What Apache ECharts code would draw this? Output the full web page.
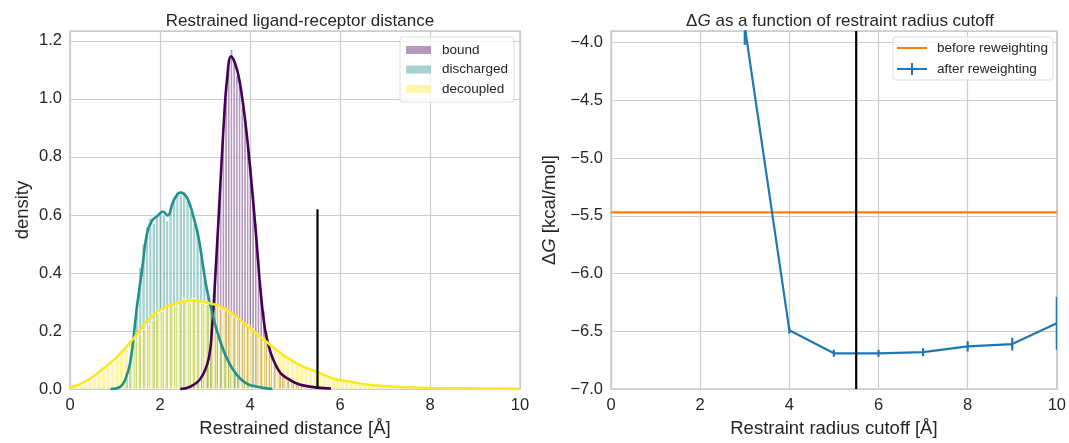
<!DOCTYPE html>
<html>
<head>
<meta charset="utf-8">
<script src="https://cdn.jsdelivr.net/npm/echarts@6/dist/echarts.min.js"></script>
<style>
  html, body { margin: 0; padding: 0; background: #fff; }
  #chart { width: 1069px; height: 443px; }
</style>
</head>
<body>
<div id="chart"></div>
<script>
// histogram bins: start, width, heights
const boundStart = 2.60, boundWidth = 0.06
const boundHist = [0.01, 0.012, 0.02, 0.025, 0.035, 0.05, 0.07, 0.10, 0.15, 0.23, 0.37, 0.53, 0.71, 0.87, 1.03, 1.11,
  1.17, 1.13, 1.08, 1.05, 0.97, 0.93, 0.84, 0.77, 0.67, 0.57, 0.45, 0.35, 0.27, 0.20, 0.15, 0.11, 0.085, 0.07,
  0.058, 0.048, 0.04, 0.034, 0.028, 0.022, 0.018, 0.015, 0.012, 0.009, 0.007, 0.005]

const dischStart = 1.0, dischWidth = 0.075
const dischHist = [0.005, 0.01, 0.03, 0.06, 0.10, 0.17, 0.30, 0.42, 0.50, 0.56, 0.59, 0.57, 0.60, 0.61, 0.60, 0.58,
  0.62, 0.66, 0.68, 0.67, 0.68, 0.65, 0.61, 0.57, 0.55, 0.45, 0.38, 0.32, 0.27, 0.23, 0.19, 0.15, 0.12, 0.09,
  0.07, 0.055, 0.04, 0.03, 0.025, 0.02, 0.015, 0.01, 0.008, 0.005, 0.003]

const decStart = 0.0, decWidth = 0.1
const decHist = [0.004, 0.006, 0.01, 0.016, 0.024, 0.036, 0.048, 0.062, 0.074, 0.09, 0.10, 0.122, 0.136, 0.152, 0.168,
  0.19, 0.205, 0.224, 0.238, 0.262, 0.268, 0.284, 0.29, 0.286, 0.302, 0.31, 0.298, 0.312, 0.302, 0.296, 0.292,
  0.286, 0.282, 0.276, 0.27, 0.262, 0.248, 0.242, 0.228, 0.222, 0.208, 0.192, 0.178, 0.166, 0.148, 0.142, 0.124,
  0.116, 0.104, 0.096, 0.086, 0.078, 0.072, 0.064, 0.06, 0.05, 0.046, 0.04, 0.036, 0.031, 0.028, 0.025, 0.022,
  0.02, 0.017, 0.015, 0.013, 0.012, 0.01, 0.009, 0.008, 0.007, 0.006, 0.005, 0.005, 0.004, 0.004, 0.003, 0.003, 0.002]

// KDE curves
const boundKdeX = [2.45, 2.67, 2.9, 3.08, 3.16, 3.25, 3.33, 3.41, 3.49, 3.58, 3.71, 3.82, 3.93, 4.04, 4.14, 4.24, 4.34, 4.45, 4.55, 4.68, 4.85, 5.0, 5.2, 5.5, 5.8]
const boundKdeY = [0.0, 0.008, 0.036, 0.104, 0.218, 0.445, 0.671, 0.898, 1.068, 1.147, 1.102, 1.011, 0.875, 0.70, 0.52, 0.33, 0.20, 0.13, 0.09, 0.055, 0.035, 0.022, 0.012, 0.005, 0.002]

const dischKdeX = [0.9, 1.11, 1.22, 1.34, 1.48, 1.60, 1.71, 1.82, 1.95, 2.06, 2.17, 2.30, 2.45, 2.60, 2.75, 2.86, 2.95, 3.04, 3.16, 3.30, 3.49, 3.71, 3.93, 4.16, 4.5]
const dischKdeY = [0.0, 0.008, 0.03, 0.093, 0.274, 0.41, 0.535, 0.58, 0.598, 0.612, 0.598, 0.649, 0.677, 0.66, 0.59, 0.52, 0.43, 0.345, 0.263, 0.184, 0.104, 0.048, 0.019, 0.008, 0.0]

const decKdeX = [0, 0.2, 0.45, 0.74, 1.04, 1.34, 1.63, 1.86, 2.08, 2.45, 2.67, 3.0, 3.3, 3.6, 3.86, 4.1, 4.38, 4.75, 5.12, 5.49, 5.86, 6.24, 6.68, 7.28, 8, 9, 10]
const decKdeY = [0.006, 0.015, 0.036, 0.07, 0.11, 0.161, 0.218, 0.257, 0.28, 0.299, 0.305, 0.300, 0.287, 0.262, 0.229, 0.198, 0.161, 0.116, 0.082, 0.059, 0.036, 0.025, 0.014, 0.008, 0.004, 0.002, 0.001]

const cutoffMark = 5.5
const cutoffMarkTop = 0.62

// right panel
const cutoffs = [3, 4, 5, 6, 7, 8, 9, 10]
const dgAfter = [-3.86, -6.49, -6.69, -6.69, -6.68, -6.63, -6.61, -6.43]
const dgErr = [0.16, 0.03, 0.03, 0.03, 0.035, 0.045, 0.055, 0.23]
const dgBefore = -5.47

const FONT = '"Liberation Sans", Arial, sans-serif'
const TXT = '#262626'
const GRIDC = '#cccccc'

function bins(start, width, heights) {
  return heights.map((h, i) => [start + i * width, start + (i + 1) * width, h])
}
function pairs(xs, ys) {
  return xs.map((x, i) => [x, ys[i]])
}

function histItem(params, api) {
  const a = api.coord([api.value(0), 0])
  const b = api.coord([api.value(1), api.value(2)])
  return {
    type: 'rect',
    shape: { x: a[0], y: b[1], width: b[0] - a[0], height: a[1] - b[1] },
    style: { fill: api.visual('color'), stroke: '#fff', lineWidth: 0.9 }
  }
}

function errItem(params, api) {
  const x = api.value(0), y = api.value(1), e = api.value(2)
  const lo = api.coord([x, y - e])
  const hi = api.coord([x, y + e])
  return {
    type: 'line',
    shape: { x1: lo[0], y1: lo[1], x2: hi[0], y2: hi[1] },
    style: { stroke: '#1f77b4', lineWidth: 2.2 }
  }
}

const chart = echarts.init(document.getElementById('chart'))

const axisCommon = {
  axisLine: { show: false },
  axisTick: { show: false },
  splitLine: { show: true, lineStyle: { color: GRIDC, width: 1.2 } },
  axisLabel: { color: TXT, fontSize: 16.5, fontFamily: FONT },
  nameTextStyle: { color: TXT, fontSize: 18.5, fontFamily: FONT }
}

const option = {
  animation: false,
  backgroundColor: '#fff',
  textStyle: { fontFamily: FONT },
  title: [
    {
      text: 'Restrained ligand-receptor distance',
      left: 295, top: 8, textAlign: 'center',
      textStyle: { color: TXT, fontSize: 17, fontWeight: 'normal', fontFamily: FONT }
    },
    {
      text: '{a|Δ}{i|G}{a| as a function of restraint radius cutoff}',
      left: 835, top: 8, textAlign: 'center',
      textStyle: {
        fontWeight: 'normal',
        rich: {
          a: { color: TXT, fontSize: 17, fontFamily: FONT, fontWeight: 'normal' },
          i: { color: TXT, fontSize: 17, fontFamily: FONT, fontStyle: 'italic', fontWeight: 'normal' }
        }
      }
    }
  ],
  legend: [
    {
      orient: 'vertical', left: 400, top: 37,
      data: [
        { name: 'bound', icon: 'rect' },
        { name: 'discharged', icon: 'rect' },
        { name: 'decoupled', icon: 'rect' }
      ],
      itemWidth: 25, itemHeight: 8, itemGap: 3.5,
      padding: [5, 6, 5, 6],
      borderColor: '#dddddd', borderWidth: 1, borderRadius: 3,
      backgroundColor: 'rgba(255,255,255,0.8)',
      textStyle: { color: TXT, fontSize: 13.5, fontFamily: FONT, lineHeight: 16, padding: [0, 0, 0, 6] }
    },
    {
      orient: 'vertical', left: 893, top: 37,
      data: [
        { name: 'before reweighting', icon: 'path://M0,5h30v2h-30z M0,0h0.01v0.01h-0.01z M0,12h0.01v0.01h-0.01z' },
        { name: 'after reweighting', icon: 'path://M0,5h30v2h-30z M14,0h2v12h-2z' }
      ],
      itemWidth: 30, itemHeight: 12, itemGap: 5,
      padding: [3, 5, 3, 4],
      borderColor: '#dddddd', borderWidth: 1, borderRadius: 3,
      backgroundColor: 'rgba(255,255,255,0.8)',
      textStyle: { color: TXT, fontSize: 13.5, fontFamily: FONT, lineHeight: 16, padding: [0, 0, 0, 5] }
    }
  ],
  grid: [
    { left: 70, right: 549, top: 31, bottom: 49, show: true, borderColor: GRIDC, borderWidth: 1.6, backgroundColor: 'transparent' },
    { left: 611, right: 10, top: 31, bottom: 49.7, show: true, borderColor: GRIDC, borderWidth: 1.6, backgroundColor: 'transparent' }
  ],
  xAxis: [
    Object.assign({}, axisCommon, {
      type: 'value', gridIndex: 0, min: 0, max: 10, interval: 2,
      name: 'Restrained distance [Å]', nameLocation: 'middle', nameGap: 28
    }),
    Object.assign({}, axisCommon, {
      type: 'value', gridIndex: 1, min: 0, max: 10, interval: 2,
      name: 'Restraint radius cutoff [Å]', nameLocation: 'middle', nameGap: 28
    })
  ],
  yAxis: [
    Object.assign({}, axisCommon, {
      type: 'value', gridIndex: 0, min: 0, max: 1.234, interval: 0.2,
      name: 'density', nameLocation: 'middle', nameGap: 38,
      axisLabel: Object.assign({}, axisCommon.axisLabel, {
        formatter: v => Math.abs(v * 5 - Math.round(v * 5)) < 1e-6 ? v.toFixed(1) : ''
      })
    }),
    Object.assign({}, axisCommon, {
      type: 'value', gridIndex: 1, min: -7, max: -3.9, interval: 0.5,
      name: '{a|Δ}{i|G}{a| [kcal/mol]}', nameLocation: 'middle', nameGap: 52,
      nameTextStyle: {
        rich: {
          a: { color: TXT, fontSize: 18.5, fontFamily: FONT },
          i: { color: TXT, fontSize: 18.5, fontFamily: FONT, fontStyle: 'italic' }
        }
      },
      axisLabel: Object.assign({}, axisCommon.axisLabel, {
        formatter: v => Math.abs(v * 2 - Math.round(v * 2)) < 1e-6 ? v.toFixed(1).replace('-', '\u2212') : ''
      })
    })
  ],
  series: [
    {
      name: 'bound', type: 'custom', xAxisIndex: 0, yAxisIndex: 0, clip: true,
      renderItem: histItem, encode: { x: [0, 1], y: 2 },
      itemStyle: { color: 'rgba(68,1,84,0.4)' },
      data: bins(boundStart, boundWidth, boundHist)
    },
    {
      type: 'line', xAxisIndex: 0, yAxisIndex: 0, smooth: 0.4, showSymbol: false,
      lineStyle: { color: '#440154', width: 2.6 }, itemStyle: { color: '#440154' },
      data: pairs(boundKdeX, boundKdeY)
    },
    {
      name: 'discharged', type: 'custom', xAxisIndex: 0, yAxisIndex: 0, clip: true,
      renderItem: histItem, encode: { x: [0, 1], y: 2 },
      itemStyle: { color: 'rgba(33,145,140,0.4)' },
      data: bins(dischStart, dischWidth, dischHist)
    },
    {
      type: 'line', xAxisIndex: 0, yAxisIndex: 0, smooth: 0.4, showSymbol: false,
      lineStyle: { color: '#21918c', width: 2.6 }, itemStyle: { color: '#21918c' },
      data: pairs(dischKdeX, dischKdeY)
    },
    {
      name: 'decoupled', type: 'custom', xAxisIndex: 0, yAxisIndex: 0, clip: true,
      renderItem: histItem, encode: { x: [0, 1], y: 2 },
      itemStyle: { color: 'rgba(253,231,37,0.4)' },
      data: bins(decStart, decWidth, decHist)
    },
    {
      type: 'line', xAxisIndex: 0, yAxisIndex: 0, smooth: 0.4, showSymbol: false,
      lineStyle: { color: '#fde725', width: 2.6 }, itemStyle: { color: '#fde725' },
      data: pairs(decKdeX, decKdeY)
    },
    {
      type: 'line', xAxisIndex: 0, yAxisIndex: 0, showSymbol: false,
      lineStyle: { color: '#000', width: 2.2 },
      data: [[cutoffMark, 0], [cutoffMark, cutoffMarkTop]]
    },
    {
      name: 'before reweighting', type: 'line', xAxisIndex: 1, yAxisIndex: 1, showSymbol: false,
      lineStyle: { color: '#ff7f0e', width: 2.2 }, itemStyle: { color: '#ff7f0e' },
      data: [[0, dgBefore], [10, dgBefore]]
    },
    {
      name: 'after reweighting', type: 'line', xAxisIndex: 1, yAxisIndex: 1, showSymbol: false, clip: true,
      lineStyle: { color: '#1f77b4', width: 2.2 }, itemStyle: { color: '#1f77b4' },
      data: pairs(cutoffs, dgAfter)
    },
    {
      type: 'custom', xAxisIndex: 1, yAxisIndex: 1, clip: true,
      renderItem: errItem, encode: { x: 0, y: 1 },
      data: cutoffs.map((c, i) => [c, dgAfter[i], dgErr[i]])
    },
    {
      type: 'line', xAxisIndex: 1, yAxisIndex: 1, showSymbol: false,
      lineStyle: { color: '#000', width: 2.2 },
      data: [[cutoffMark, -7], [cutoffMark, -3.9]]
    }
  ]
}

chart.setOption(option)
</script>
</body>
</html>
